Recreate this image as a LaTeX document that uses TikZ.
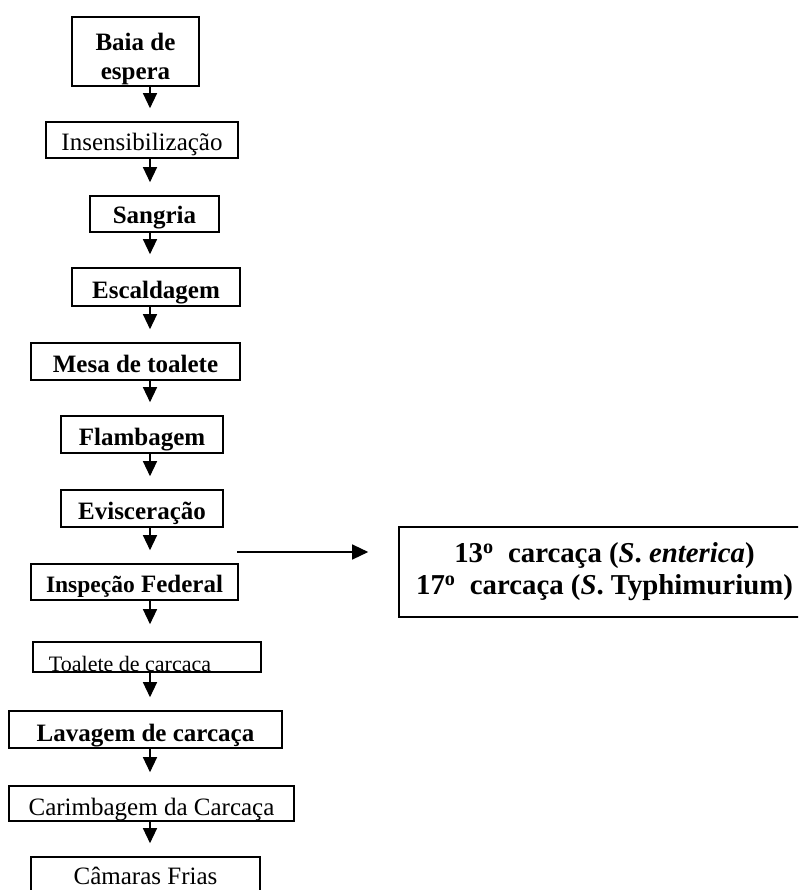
\documentclass[tikz,border=0pt]{standalone}
\usepackage{fontspec}
\setmainfont{Liberation Serif}
\usetikzlibrary{arrows.meta}

\begin{document}
\begin{tikzpicture}[x=1pt,y=-1pt,font=\fontsize{25}{29}\selectfont,
    stage/.style 2 args={draw,line width=1.6pt,inner sep=0pt,
      path picture={\node[inner sep=0pt,#1] at (path picture bounding box.south) {#2};}},
    flow/.style={line width=1.3pt,-{Triangle[length=15pt,width=14pt]},shorten >=13pt}]
      \useasboundingbox (0,0) rectangle (798,890);
      \clip (0,0) rectangle (798,890);
      \coordinate (axis) at (150,0);
      \node[stage={name=baiat,align=center,anchor=south,yshift=-7.9pt}{\bfseries Baia de\\ \bfseries espera},minimum width=127,minimum height=69] (baia) at (135.5,51.5) {};
      \node[stage={name=insenst,anchor=base,yshift=7pt}{Insensibilização},minimum width=192,minimum height=36] (insens) at (142,140) {};
      \node[stage={name=sangriat,anchor=base,yshift=8pt}{\bfseries Sangria},minimum width=129,minimum height=36] (sangria) at (154.5,214) {};
      \node[stage={name=escaldt,anchor=base,yshift=7.5pt}{\bfseries Escaldagem},minimum width=168,minimum height=38] (escald) at (156,287) {};
      \node[stage={name=mesat,anchor=base,yshift=8pt}{\bfseries Mesa de toalete},minimum width=209,minimum height=37] (mesa) at (135.5,361.5) {};
      \node[stage={name=flambt,anchor=base,yshift=8pt}{\bfseries Flambagem},minimum width=162,minimum height=37] (flamb) at (142,434.5) {};
      \node[stage={name=eviscert,anchor=base,yshift=8pt}{\bfseries Evisceração},minimum width=162,minimum height=37] (evisc) at (142,508.5) {};
      \node[stage={name=inspect,anchor=base,yshift=8pt}{\bfseries{\fontsize{23.5}{27}\selectfont Inspeção} Federal},minimum width=207,minimum height=36] (insp) at (134.5,582) {};
      \node[stage={name=toalt,anchor=base,xshift=-17pt,yshift=1pt}{\fontsize{22}{26}\selectfont Toalete de carcaça},minimum width=228,minimum height=30] (toal) at (147,657) {};
      \node[stage={name=lavagt,anchor=base,yshift=7pt}{\bfseries Lavagem de carcaça},minimum width=273,minimum height=37] (lavag) at (145.5,729.5) {};
      \node[stage={name=carimbt,anchor=base,yshift=6pt}{Carimbagem da Carcaça},minimum width=285,minimum height=35] (carimb) at (151.5,803.5) {};
      \node[stage={name=camarast,anchor=base,yshift=7pt}{Câmaras Frias},minimum width=229,minimum height=34] (camaras) at (145.5,874) {};
      \node[draw,line width=1.6pt,inner sep=0pt,align=center,font=\fontsize{28.8}{32}\selectfont\bfseries,minimum width=411,minimum height=90] (result) at (604.5,572)
        {13\textsuperscript{o}\ \ carcaça (\textit{S}. \textit{enterica})\\17\textsuperscript{o}\ \ carcaça (\textit{S}. Typhimurium)};
      \draw[flow] (baia.south -| axis) -- (insens.north -| axis);
      \draw[flow] (insens.south -| axis) -- (sangria.north -| axis);
      \draw[flow] (sangria.south -| axis) -- (escald.north -| axis);
      \draw[flow] (escald.south -| axis) -- (mesa.north -| axis);
      \draw[flow] (mesa.south -| axis) -- (flamb.north -| axis);
      \draw[flow] (flamb.south -| axis) -- (evisc.north -| axis);
      \draw[flow] (evisc.south -| axis) -- (insp.north -| axis);
      \draw[flow,shorten >=17pt] (insp.south -| axis) -- (toal.north -| axis);
      \draw[flow] (toal.south -| axis) -- (lavag.north -| axis);
      \draw[flow] (lavag.south -| axis) -- (carimb.north -| axis);
      \draw[flow] (carimb.south -| axis) -- (camaras.north -| axis);
      \coordinate (tap) at (237,552);
      \draw[flow,-{Triangle[length=16pt,width=15pt]},shorten >=30pt] (tap) -- (tap -| result.west);
    \end{tikzpicture}
\end{document}
